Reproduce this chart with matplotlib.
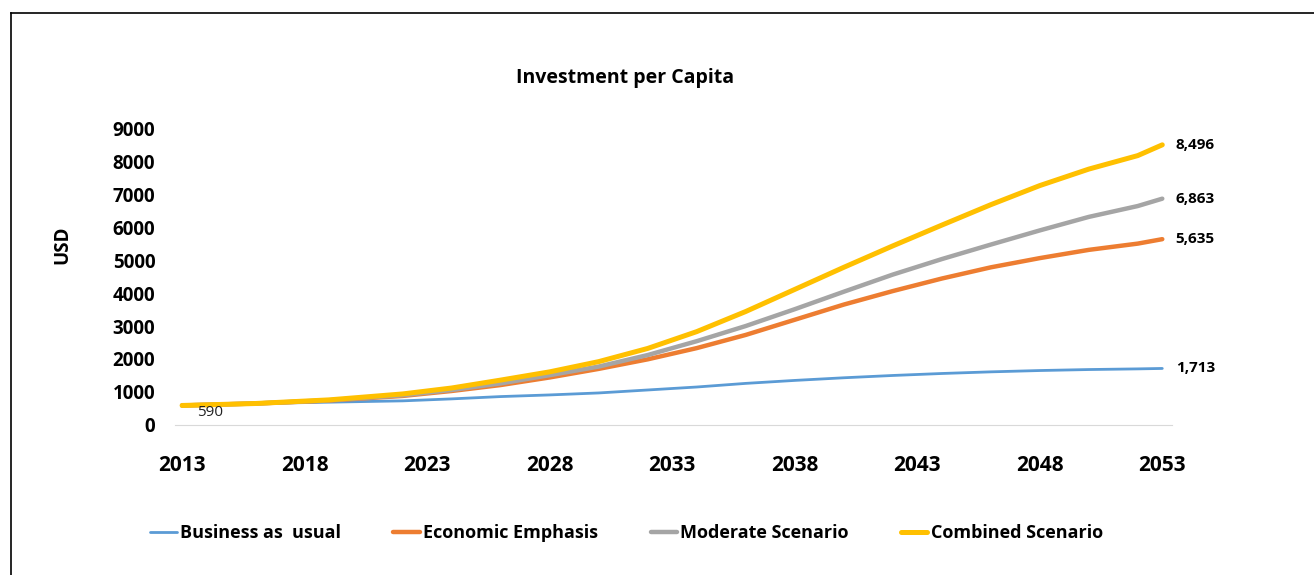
import matplotlib.pyplot as plt
from matplotlib.lines import Line2D

plt.rcParams['font.family'] = ['Open Sans', 'DejaVu Sans']

# データ
years = [2013, 2016, 2019, 2022, 2024, 2026, 2028, 2030, 2032, 2034,
         2036, 2038, 2040, 2042, 2044, 2046, 2048, 2050, 2052, 2053]
business_as_usual = [590, 650, 690, 730, 790, 860, 910, 970, 1060, 1150,
                     1260, 1350, 1430, 1500, 1560, 1610, 1650, 1680, 1700, 1713]
economic_emphasis = [590, 650, 740, 880, 1030, 1210, 1440, 1700, 1990, 2330,
                     2730, 3190, 3650, 4060, 4440, 4780, 5060, 5310, 5500, 5635]
moderate_scenario = [590, 650, 750, 900, 1060, 1260, 1510, 1770, 2120, 2540,
                     3000, 3510, 4040, 4560, 5030, 5470, 5900, 6310, 6640, 6863]
combined_scenario = [590, 650, 760, 940, 1120, 1360, 1610, 1920, 2320, 2830,
                     3440, 4110, 4780, 5430, 6060, 6680, 7260, 7760, 8170, 8496]
tick_years = [2013, 2018, 2023, 2028, 2033, 2038, 2043, 2048, 2053]

series = [
    ('Business as  usual', business_as_usual, '#5B9BD5', 2.0),
    ('Economic Emphasis', economic_emphasis, '#ED7D31', 3.2),
    ('Moderate Scenario', moderate_scenario, '#A5A5A5', 3.2),
    ('Combined Scenario', combined_scenario, '#FFC000', 3.6),
]

fig = plt.figure(figsize=(13.14, 5.75), dpi=100)
ax = fig.add_axes([0.133, 0.261, 0.759, 0.516])

for label, values, color, lw in series:
    ax.plot(years, values, color=color, lw=lw, label=label, solid_capstyle='round')
    ax.text(2053.55, values[-1], f'{values[-1]:,}', fontsize=11, fontweight='bold',
            va='center', ha='left')

ax.text(2013.6, 590, '590', fontsize=11, va='top', ha='left', color='#222222')

ax.set_xlim(2012.7, 2053.4)
ax.set_ylim(0, 9000)
ax.set_xticks(tick_years)
ax.set_yticks(range(0, 10000, 1000))
ax.tick_params(axis='x', length=0, labelsize=15, pad=22)
ax.tick_params(axis='y', length=0, labelsize=13.5, pad=14)
for t in ax.get_xticklabels() + ax.get_yticklabels():
    t.set_fontweight('bold')

for s in ['top', 'right', 'left']:
    ax.spines[s].set_visible(False)
ax.spines['bottom'].set_color('#D9D9D9')

ax.set_ylabel('USD', fontsize=13.5, fontweight='bold')
ax.yaxis.set_label_coords(-0.103, 0.606)
fig.text(0.476, 0.864, 'Investment per Capita', fontsize=14, fontweight='bold',
         ha='center', va='center')

fig.legend(loc='center', bbox_to_anchor=(0.477, 0.073), ncol=4, frameon=False,
           handlelength=1.45, handletextpad=0.2, columnspacing=2.9,
           prop={'weight': 'bold', 'size': 13})

# 外枠
fig.add_artist(Line2D([11 / 1314, 11 / 1314], [0, 1 - 13 / 575], color='black', lw=1.2))
fig.add_artist(Line2D([11 / 1314, 1], [1 - 13 / 575, 1 - 13 / 575], color='black', lw=1.2))

plt.savefig('out.png', dpi=100)
